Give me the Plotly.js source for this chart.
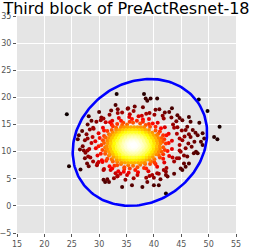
<!DOCTYPE html>
<html><head><meta charset="utf-8">
<script src="https://cdn.plot.ly/plotly-3.0.1.min.js"></script>
<style>html,body{margin:0;padding:0;background:#fff}#chart{width:253px;height:249px}</style>
</head><body><div id="chart"></div>
<script>
// Dense core, read row by row (row y value, then x values on that row)
const coreRowY = [8.0,8.5,9.0,9.5,10.0,10.5,11.0,11.5,12.0,12.5,13.0,13.5,14.0,14.5,
                  9.75,10.25,10.75,11.25,11.75,12.25,12.75];
const coreRowX = [
 [34.1,34.7,35.3,35.9,36.5,37.1,37.7,38.3],
 [33.2,33.8,34.4,35.0,35.6,36.2,36.8,37.4,38.0,38.6,39.2],
 [32.6,33.2,33.8,34.4,35.0,35.6,36.2,36.8,37.4,38.0,38.6,39.2,39.8],
 [32.0,32.6,33.2,33.8,34.4,35.0,35.6,36.2,36.8,37.4,38.0,38.6,39.2,39.8,40.4],
 [31.8,32.4,33.0,33.6,34.2,34.8,35.4,36.0,36.6,37.2,37.8,38.4,39.0,39.6,40.2,40.8],
 [31.5,32.1,32.7,33.3,33.9,34.5,35.1,35.7,36.3,36.9,37.5,38.1,38.7,39.3,39.9,40.5,41.1],
 [31.4,32.0,32.6,33.2,33.8,34.4,35.0,35.6,36.2,36.8,37.4,38.0,38.6,39.2,39.8,40.4,41.0],
 [31.6,32.2,32.8,33.4,34.0,34.6,35.2,35.8,36.4,37.0,37.6,38.2,38.8,39.4,40.0,40.6,41.2],
 [31.5,32.1,32.7,33.3,33.9,34.5,35.1,35.7,36.3,36.9,37.5,38.1,38.7,39.3,39.9,40.5,41.1],
 [31.8,32.4,33.0,33.6,34.2,34.8,35.4,36.0,36.6,37.2,37.8,38.4,39.0,39.6,40.2,40.8],
 [32.1,32.7,33.3,33.9,34.5,35.1,35.7,36.3,36.9,37.5,38.1,38.7,39.3,39.9,40.5],
 [32.5,33.1,33.7,34.3,34.9,35.5,36.1,36.7,37.3,37.9,38.5,39.1,39.7],
 [33.1,33.7,34.3,34.9,35.5,36.1,36.7,37.3,37.9,38.5,39.1],
 [34.0,34.6,35.2,35.8,36.4,37.0,37.6,38.2],
 [34.5,35.1,35.7,36.3,36.9,37.5,38.1],
 [33.9,34.5,35.1,35.7,36.3,36.9,37.5,38.1,38.7],
 [33.6,34.2,34.8,35.4,36.0,36.6,37.2,37.8,38.4,39.0],
 [33.6,34.2,34.8,35.4,36.0,36.6,37.2,37.8,38.4,39.0],
 [33.9,34.5,35.1,35.7,36.3,36.9,37.5,38.1,38.7],
 [34.2,34.8,35.4,36.0,36.6,37.2,37.8,38.4],
 [34.8,35.4,36.0,36.6,37.2,37.8]
];
// Points in the red band around the core
const ringX = [42.2,41.9,41.7,41.1,40.3,39.1,38.0,36.9,35.6,34.4,33.3,32.5,31.5,30.9,30.7,30.4,30.6,31.1,31.5,32.5,33.3,34.6,35.6,37.0,38.2,39.3,40.1,41.1,41.7,42.0,
 41.6,41.4,40.8,40.3,39.3,38.5,37.5,36.2,35.1,34.2,33.1,32.3,31.8,31.2,30.9,31.1,31.2,31.8,32.3,33.3,34.0,35.3,36.2,37.5,38.4,39.5,40.1,40.9,41.4,41.7,
 43.3,42.7,42.0,40.7,39.1,37.2,35.5,33.6,32.0,30.7,29.9,29.3,29.4,29.7,30.6,31.9,33.5,35.4,37.1,39.0,40.6,41.9,42.8,43.3,
 42.7,42.3,41.3,39.8,38.0,36.0,34.0,32.3,30.9,30.1,29.9,30.3,31.3,32.8,34.6,36.6,38.6,40.3,41.7,42.5,
 44.7,43.7,41.8,39.2,36.3,33.4,30.8,28.9,27.9,27.9,28.9,30.8,33.4,36.3,39.2,41.8,43.7,44.7];
const ringY = [11.5,12.3,13.0,13.7,14.6,15.1,15.5,15.7,15.5,15.3,15.1,14.7,13.8,12.9,12.1,11.2,10.3,9.6,8.7,8.2,7.5,7.1,6.9,7.1,7.0,7.7,8.0,8.9,9.5,10.3,
 11.8,12.5,13.3,13.9,14.6,14.9,15.2,15.3,15.0,14.9,14.4,14.0,13.2,12.6,11.6,10.8,10.1,9.3,8.6,8.1,7.7,7.5,7.4,7.6,7.7,8.2,8.6,9.4,10.0,10.8,
 12.0,13.3,14.5,15.3,16.0,16.5,16.4,16.2,15.4,14.4,13.4,11.9,10.6,9.3,8.1,7.3,6.4,6.1,6.2,6.4,7.2,8.0,9.2,10.5,
 11.6,13.0,14.3,15.2,15.9,16.0,15.7,15.0,13.9,12.5,11.0,9.6,8.3,7.4,6.8,6.6,6.9,7.7,8.7,10.1,
 12.4,14.4,16.1,17.1,17.5,17.1,16.1,14.4,12.4,10.2,8.2,6.6,5.5,5.1,5.5,6.6,8.2,10.2];
// Darker scattered points beyond the band
const bandX = [30.4,31.9,34.2,35.6,37.8,38.6,40.1,41.6,43.2,44.1,32.2,35.3,38.0,40.3,42.8,
 28.3,27.7,28.8,27.4,28.6,27.0,28.2,27.5,28.4,26.5,26.3,27.9,29.7,
 43.5,44.3,45.1,44.2,45.6,45.2,46.3,44.7,45.8,44.9,45.5,44.2,46.9,46.1,
 38.6,33.9,40.0,30.9,42.3];
const bandY = [16.3,16.8,17.2,16.9,16.6,17.0,16.8,16.6,16.3,15.6,17.6,18.0,18.2,17.7,17.3,
 14.1,13.2,12.7,12.1,11.6,11.0,10.5,9.8,8.9,10.4,13.0,15.0,7.8,
 15.0,14.5,13.9,13.3,12.8,12.1,11.5,11.2,10.6,10.0,9.3,8.8,10.9,14.6,
 5.2,5.9,5.2,6.8,7.0];
// Sparse outer points
const outerX = [24.1,33.2,33.0,33.4,38.2,38.5,38.8,39.4,40.6,48.2,49.8,52.0,51.0,51.6,26.1,24.5,26.6,42.2,34.2,37.9,36.0,40.0,40.9,38.8,41.2,30.8,31.1,31.5,31.8,34.8,35.1,34.5,37.0,32.7,33.3,33.0,32.1,32.4,27.4,27.8,28.1,28.0,29.6,29.9,30.5,39.7,40.6,40.9,42.2,43.7,44.9,45.2,45.8,46.4,45.5,47.3,48.0,47.7,46.1,44.6,43.4,42.2,42.5,43.3,44.3,44.7,45.2,46.4,46.7,48.3,47.1,47.6,48.0,48.9,49.2,48.6,46.7,45.8,46.4,47.4,48.9,28.1,28.6,29.5,30.3,31.2,32.4,41.0,42.0,36.5,35.2,30.0,29.0,26.9,27.2];
const outerY = [16.9,20.6,18.6,17.8,20.6,19.8,19.4,19.8,19.8,19.6,17.5,14.6,12.7,12.3,12.3,7.3,6.7,2.3,3.5,3.5,3.8,3.8,3.8,4.4,4.9,4.8,4.4,4.9,4.4,4.8,5.7,6.3,5.7,5.1,5.4,6.0,6.6,6.9,8.8,7.8,7.3,9.1,7.5,8.1,8.4,5.7,6.0,5.9,5.7,5.9,6.9,6.6,7.2,7.8,7.8,9.7,9.7,10.0,9.1,8.8,8.9,6.3,5.4,18.0,16.7,16.2,15.8,16.4,15.5,15.3,14.0,13.5,13.0,13.4,12.4,11.8,12.7,14.0,13.2,11.8,11.2,16.5,15.7,15.5,15.8,15.4,15.7,17.8,17.2,18.3,17.9,17.3,14.2,13.8,10.2];
// Fitted ellipse
const ellipseCenter = [37.45, 11.7];
const ellipseAxes = [12.9, 11.0];
const ellipseAngleDeg = 36;
const xTicks = [15,20,25,30,35,40,45,50,55];
const yTicks = [-5,0,5,10,15,20,25,30,35];

let px = [], py = [];
coreRowY.forEach((y,i)=>coreRowX[i].forEach(x=>{px.push(x);py.push(y);}));
ringX.forEach((x,i)=>{px.push(x);py.push(ringY[i]);});
bandX.forEach((x,i)=>{px.push(x);py.push(bandY[i]);});
outerX.forEach((x,i)=>{px.push(x);py.push(outerY[i]);});
// density (KDE) for colouring
const hx = 2.6, hy = 2.1;
let dens = px.map((x,i)=>{let s=0;for(let j=0;j<px.length;j++){const dx=(x-px[j])/hx, dy=(py[i]-py[j])/hy; s+=Math.exp(-0.5*(dx*dx+dy*dy));}return s;});
const mn=Math.min(...dens), mx=Math.max(...dens);
let idx = dens.map((d,i)=>i).sort((a,b)=>dens[a]-dens[b]);
const sx = idx.map(i=>px[i]), sy = idx.map(i=>py[i]), sc = idx.map(i=>(dens[i]-mn)/(mx-mn));

// ellipse outline
const th = ellipseAngleDeg*Math.PI/180;
let ex=[], ey=[];
for(let k=0;k<=200;k++){const t=2*Math.PI*k/200; const a=ellipseAxes[0]*Math.cos(t), b=ellipseAxes[1]*Math.sin(t);
 ex.push(ellipseCenter[0]+a*Math.cos(th)-b*Math.sin(th)); ey.push(ellipseCenter[1]+a*Math.sin(th)+b*Math.cos(th));}

const hot = [[0,'#0b0000'],[0.365,'#ff0000'],[0.746,'#ffff00'],[1,'#ffffff']];
const data = [
 {type:'scatter',mode:'markers',x:sx,y:sy,marker:{size:4,color:sc,colorscale:hot,cmin:0,cmax:1,line:{width:0}},hoverinfo:'skip',showlegend:false},
 {type:'scatter',mode:'lines',x:ex,y:ey,line:{color:'#0000ff',width:2.6},hoverinfo:'skip',showlegend:false}
];
const axis = (rng,ticks)=>({range:rng,tickvals:ticks,ticktext:ticks.map(v=>v<0?'\u2212'+(-v):String(v)),showgrid:true,gridcolor:'#ffffff',gridwidth:1,zeroline:false,showline:false,ticks:'outside',ticklen:3,tickwidth:1,tickcolor:'#555555',tickfont:{family:'DejaVu Sans',size:8,color:'#555555'},fixedrange:true});
const layout = {
 width:253,height:249,margin:{l:17,r:17,t:16,b:16,pad:0},
 paper_bgcolor:'#ffffff',plot_bgcolor:'#e5e5e5',
 title:{text:'Third block of PreActResnet-18',font:{family:'DejaVu Sans',size:16,color:'#000000'},x:0.5,xanchor:'center',xref:'paper',yref:'container',y:0.988,yanchor:'top',pad:{t:0,b:0}},
 xaxis:axis([15,55],xTicks),yaxis:axis([-5,35],yTicks),showlegend:false
};
Plotly.newPlot('chart',data,layout,{staticPlot:true,displayModeBar:false});
</script></body></html>
